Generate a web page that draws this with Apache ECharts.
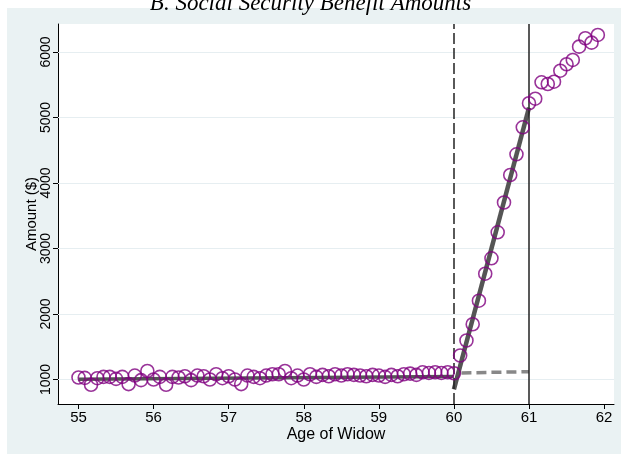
<!DOCTYPE html>
<html><head><meta charset="utf-8">
<script src="https://cdn.jsdelivr.net/npm/echarts@6/dist/echarts.min.js"></script>
<style>html,body{margin:0;padding:0;background:#fff}#c{width:621px;height:454px}</style>
</head><body><div id="c"></div>
<script>
const titleText = 'B. Social Security Benefit Amounts';
const xName = 'Age of Widow';
const yName = 'Amount ($)';
const ages = [
 55.000,55.083,55.167,55.250,55.333,55.417,55.500,55.583,55.667,55.750,55.833,55.917,
 56.000,56.083,56.167,56.250,56.333,56.417,56.500,56.583,56.667,56.750,56.833,56.917,
 57.000,57.083,57.167,57.250,57.333,57.417,57.500,57.583,57.667,57.750,57.833,57.917,
 58.000,58.083,58.167,58.250,58.333,58.417,58.500,58.583,58.667,58.750,58.833,58.917,
 59.000,59.083,59.167,59.250,59.333,59.417,59.500,59.583,59.667,59.750,59.833,59.917,
 60.000,60.083,60.167,60.250,60.333,60.417,60.500,60.583,60.667,60.750,60.833,60.917,
 61.000,61.083,61.167,61.250,61.333,61.417,61.500,61.583,61.667,61.750,61.833,61.917
];
const amounts = [
 1030,1025,920,1020,1040,1040,1010,1040,930,1060,990,1130,
 1000,1040,920,1040,1030,1050,990,1060,1050,1000,1080,1020,
 1050,1000,930,1060,1040,1020,1060,1080,1080,1130,1020,1060,
 1000,1080,1040,1070,1050,1080,1060,1080,1070,1060,1050,1070,
 1060,1040,1070,1050,1080,1090,1070,1110,1100,1110,1100,1110,
 1095,1366,1595,1844,2203,2615,2850,3247,3702,4122,4438,4850,
 5217,5287,5537,5511,5546,5714,5812,5878,6081,6209,6142,6260
];
const xTicks = [55,56,57,58,59,60,61,62];
const yTicks = [1000,2000,3000,4000,5000,6000];
const cutoffDashed = 60;
const cutoffSolid = 61;
const fitPreX = [55, 60], fitPreY = [1005, 1045];
const fitPostX = [60, 61], fitPostY = [850, 5150];
const fitCfX = [60.1, 61], fitCfY = [1100, 1120];

const pair = (xs, ys) => xs.map((x, i) => [x, ys[i]]);
const chart = echarts.init(document.getElementById('c'), null, {renderer: 'canvas'});
const font = 'Liberation Sans, Arial, sans-serif';
chart.setOption({
  animation: false,
  backgroundColor: '#fff',
  graphic: [
    {type: 'rect', shape: {x: 7, y: 8, width: 614, height: 446}, style: {fill: '#eaf2f3'}, z: -10, silent: true},
    {type: 'text', left: 'center', top: -8, style: {text: titleText, font: 'italic 23px "Liberation Serif", "Times New Roman", serif', fill: '#000'}, z: 10}
  ],
  grid: {left: 58, right: 7, top: 24, bottom: 50, show: true, backgroundColor: '#fff', borderWidth: 0},
  xAxis: {
    type: 'value', min: 54.727, max: 62.132,
    name: xName, nameLocation: 'middle', nameGap: 23, nameMoveOverlap: false,
    nameTextStyle: {fontFamily: font, fontSize: 16, color: '#000'},
    axisLine: {show: true, lineStyle: {color: '#000', width: 1}},
    axisTick: {show: true, length: 5, customValues: xTicks, lineStyle: {color: '#000'}},
    axisLabel: {customValues: xTicks, margin: 6, fontFamily: font, fontSize: 15, color: '#000', formatter: v => String(v)},
    splitLine: {show: false}
  },
  yAxis: {
    type: 'value', min: 626, max: 6427,
    name: yName, nameLocation: 'middle', nameGap: 19, nameRotate: 90, nameMoveOverlap: false,
    nameTextStyle: {fontFamily: font, fontSize: 15, color: '#000'},
    axisLine: {show: true, lineStyle: {color: '#000', width: 1}},
    axisTick: {show: true, length: 5, customValues: yTicks, lineStyle: {color: '#000'}},
    axisLabel: {customValues: yTicks, rotate: 90, margin: 5, fontFamily: font, fontSize: 14, color: '#000', formatter: v => String(v)},
    splitLine: {show: false}
  },
  series: [
    {
      type: 'line', data: pair(fitPreX, fitPreY), symbol: 'none', z: 3,
      lineStyle: {color: '#555', width: 3.5},
      markLine: {
        silent: true, symbol: ['none', 'none'], label: {show: false}, z: 1,
        lineStyle: {color: '#e6eef1', width: 1, type: 'solid'},
        data: yTicks.map(v => ({yAxis: v}))
      }
    },
    {
      type: 'line', data: pair(fitPostX, fitPostY), symbol: 'none', z: 3,
      lineStyle: {color: '#555', width: 4.5}
    },
    {
      type: 'line', data: pair(fitCfX, fitCfY), symbol: 'none', z: 3,
      lineStyle: {color: '#888', width: 3.5, type: [10, 5]}
    },
    {
      type: 'line', data: [], z: 4,
      markLine: {
        silent: true, symbol: ['none', 'none'], label: {show: false},
        data: [
          {xAxis: cutoffDashed, lineStyle: {color: '#222', width: 1.5, type: [11, 4]}},
          {xAxis: cutoffSolid, lineStyle: {color: '#222', width: 1.5, type: 'solid'}}
        ]
      }
    },
    {
      type: 'scatter', data: pair(ages, amounts), symbol: 'circle', symbolSize: 13, z: 5,
      itemStyle: {color: 'rgba(0,0,0,0)', borderColor: '#800080', borderWidth: 1.6}
    }
  ]
});
</script></body></html>
